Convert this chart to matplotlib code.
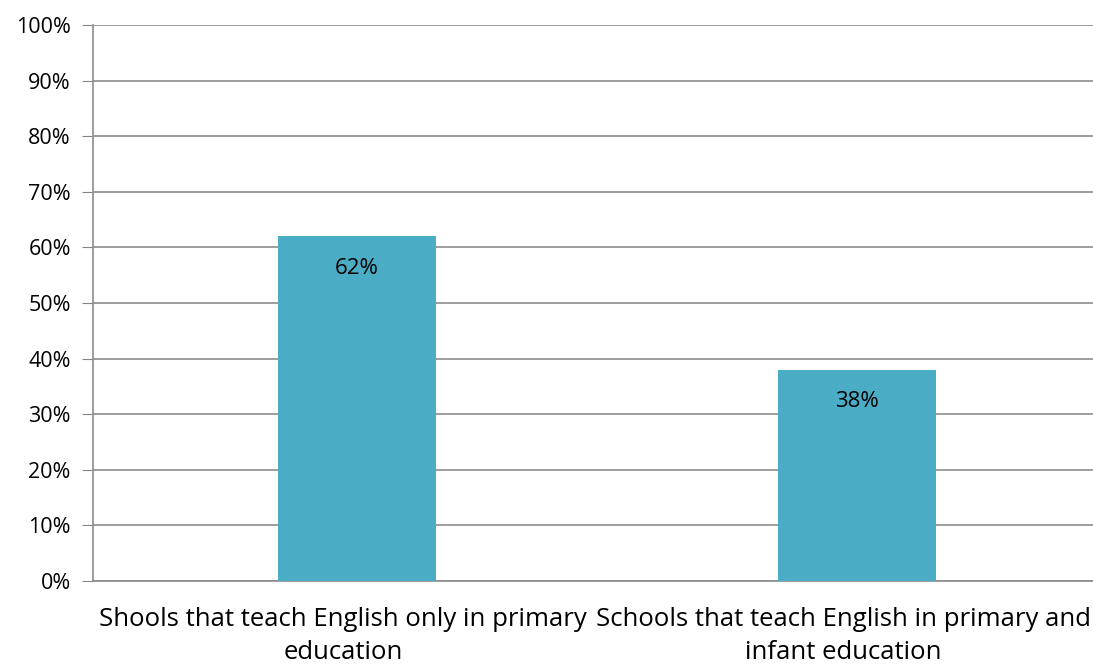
import matplotlib.pyplot as plt
import numpy as np

categories = ["Shools that teach English only in primary\neducation",
              "Schools that teach English in primary and\ninfant education"]
values = [62, 38]
yticks = list(range(0, 101, 10))

plt.rcParams['font.family'] = ['Open Sans', 'DejaVu Sans']

fig = plt.figure(figsize=(10.93, 6.66), dpi=100)
ax = fig.add_axes([93/1093, 85/666, 1 - 93/1093, 556/666])

x = np.arange(len(categories))
bars = ax.bar(x + 0.028, values, width=0.315, color='#4bacc6', zorder=3)
for b, v in zip(bars, values):
    ax.text(b.get_x() + b.get_width()/2, v - 5.8, f"{v}%", ha='center', va='center',
            fontsize=16, color='black', zorder=4)

ax.set_xlim(-0.5, 1.5)
ax.set_ylim(0, 100)
ax.set_yticks(yticks)
ax.set_yticklabels([f"{t}%" for t in yticks], fontsize=15.5)
ax.set_xticks(x)
ax.set_xticklabels(categories, fontsize=18.5, linespacing=1.4)
ax.tick_params(axis='x', length=0, pad=19)
ax.tick_params(axis='y', length=8, color='#868686', pad=8)
ax.yaxis.grid(True, color='#8c8c8c', linewidth=1.2, zorder=0)
for s in ['top', 'right']:
    ax.spines[s].set_visible(False)
for s in ['left', 'bottom']:
    ax.spines[s].set_color('#8c8c8c')
    ax.spines[s].set_linewidth(1.2)

fig.savefig('out.png', dpi=100)
